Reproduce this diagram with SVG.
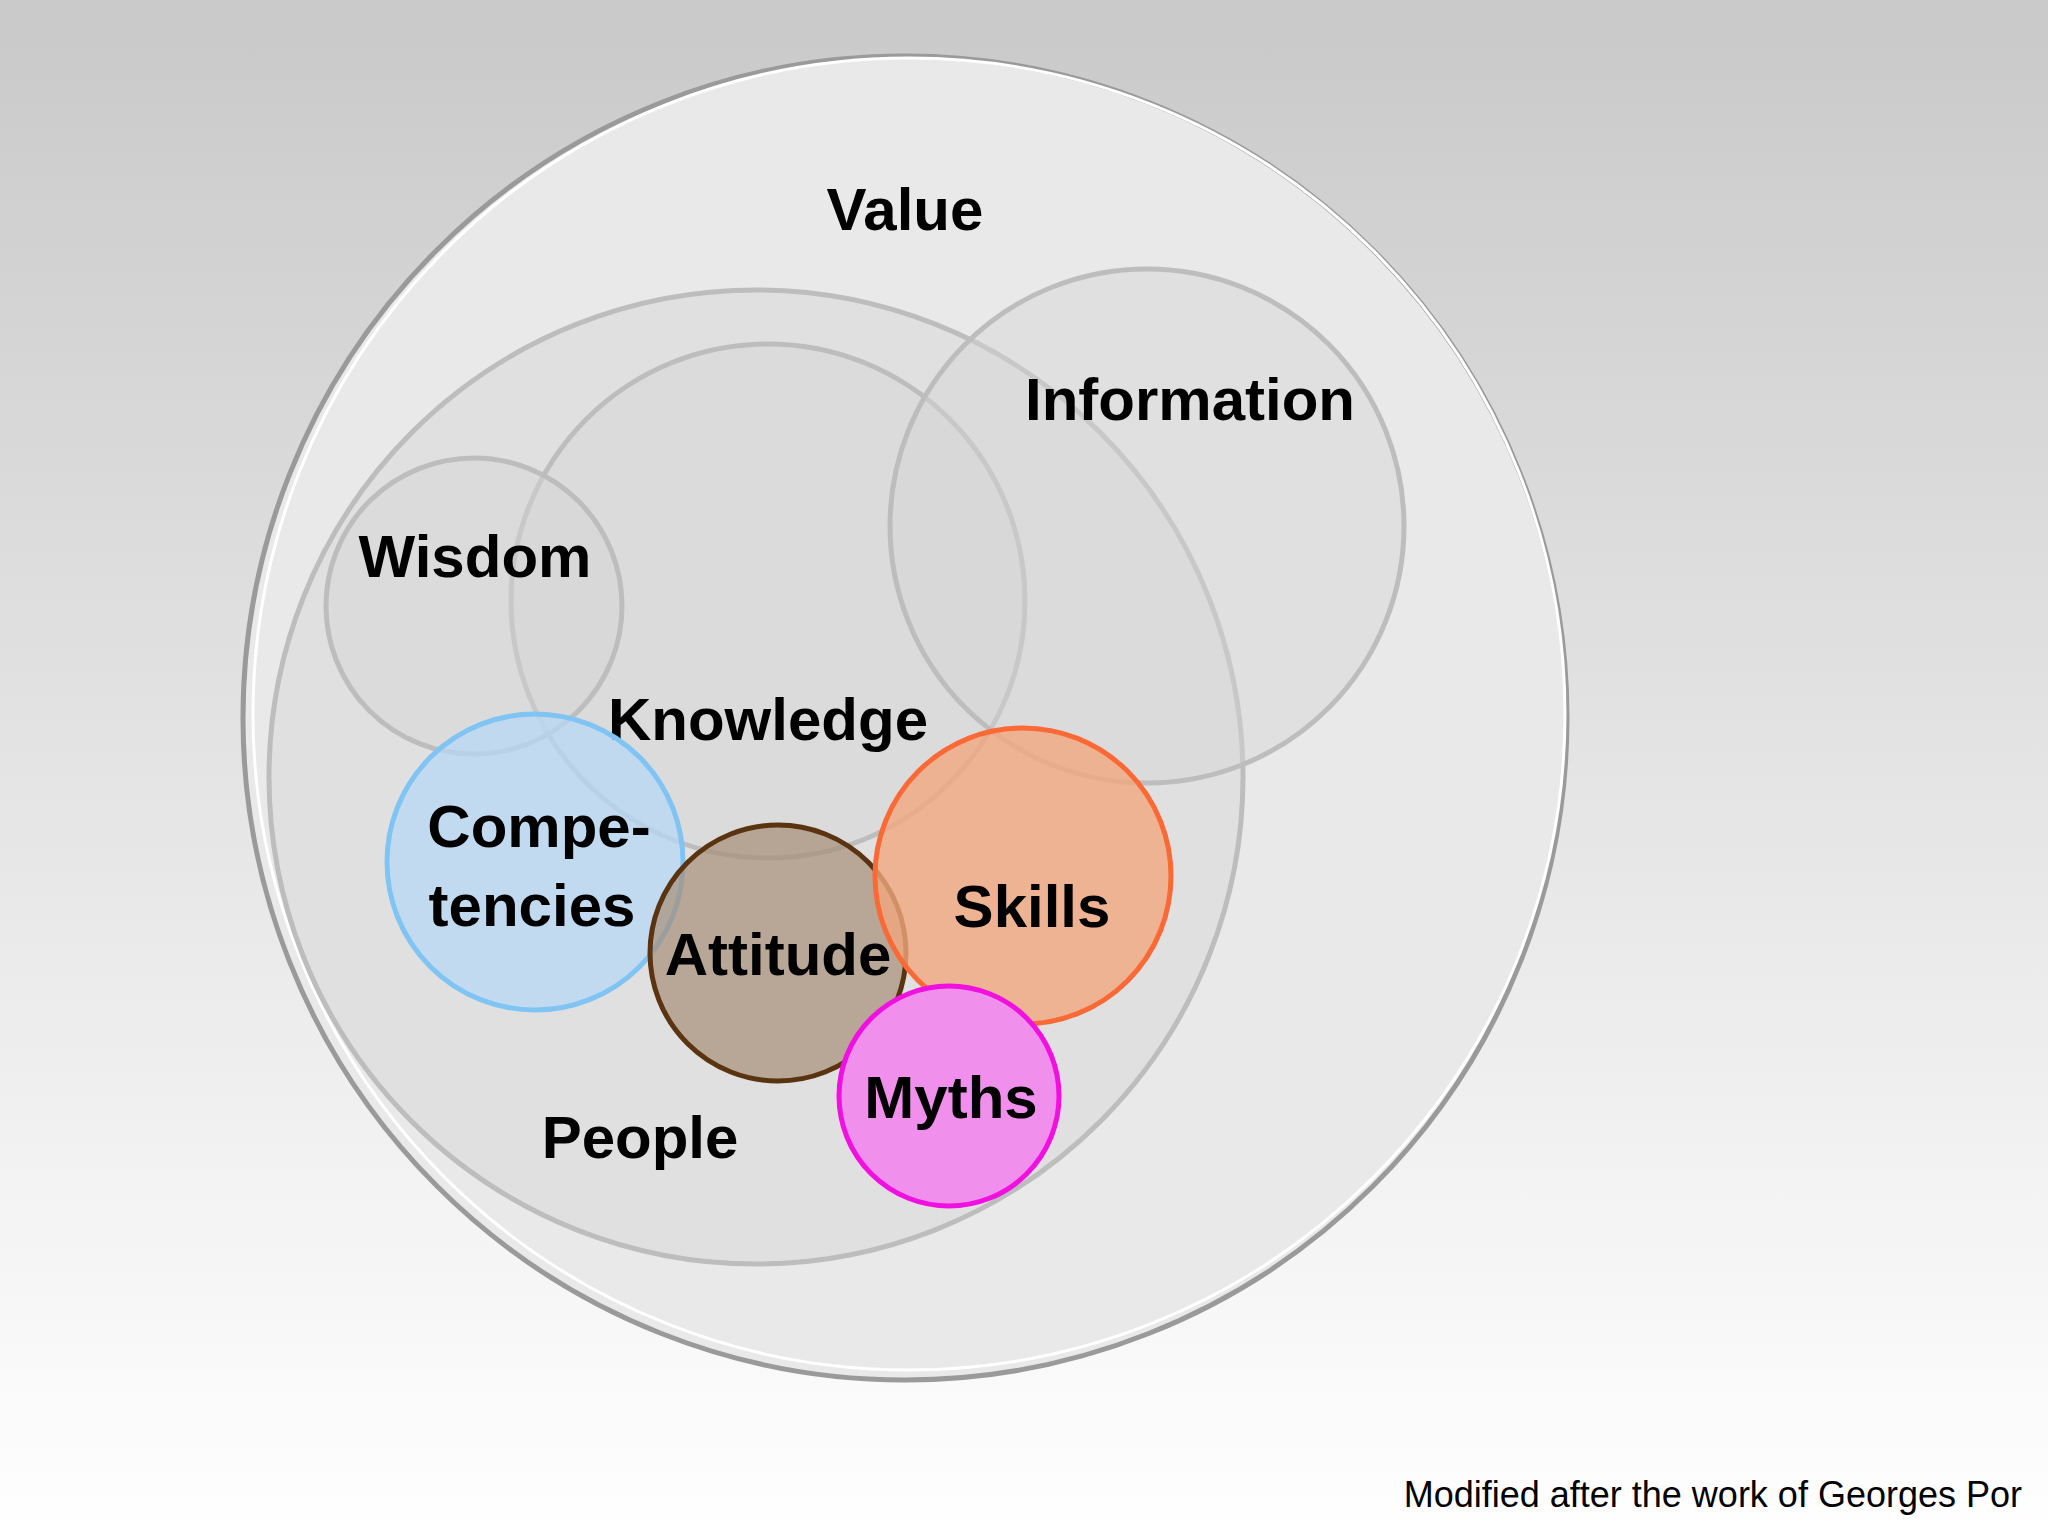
<svg xmlns="http://www.w3.org/2000/svg" width="2048" height="1535" viewBox="0 0 2048 1535">
<defs>
<linearGradient id="bg" x1="0" y1="0" x2="0" y2="1"><stop offset="0" stop-color="#c9c9c9"/><stop offset="1" stop-color="#ffffff"/></linearGradient>
<style>
.t{font-family:"Liberation Sans",Arial,sans-serif;font-weight:bold;font-size:60px;fill:#000;text-anchor:middle}
.g{fill:#d4d4d4;fill-opacity:0.45;stroke:#bdbdbd;stroke-width:5}
</style>
</defs>
<rect width="2048" height="1535" fill="url(#bg)"/>
<g id="value"><circle cx="905" cy="718" r="662" fill="#e9e9e9" stroke="#9a9a9a" stroke-width="5"/><circle cx="909" cy="714" r="656" fill="none" stroke="#ffffff" stroke-width="3"/><text class="t" x="905" y="230">Value</text></g>
<g id="people"><circle cx="756" cy="777" r="487" class="g"/><text class="t" x="640" y="1158">People</text></g>
<g id="knowledge"><circle cx="768" cy="601" r="257" class="g"/><text class="t" x="768" y="740">Knowledge</text></g>
<g id="wisdom"><circle cx="474" cy="606" r="148" class="g"/><text class="t" x="475" y="577">Wisdom</text></g>
<g id="information"><circle cx="1147" cy="526" r="257" class="g"/><text class="t" x="1190" y="420">Information</text></g>
<g id="competencies"><circle cx="535" cy="862" r="148" fill="#b8d8f4" fill-opacity="0.75" stroke="#80c4f4" stroke-width="5"/><text class="t" x="539" y="847">Compe-</text><text class="t" x="532" y="926">tencies</text></g>
<g id="attitude"><circle cx="778" cy="953" r="128" fill="#a78e78" fill-opacity="0.7" stroke="#5a3410" stroke-width="5"/><text class="t" x="778" y="975">Attitude</text></g>
<g id="skills"><circle cx="1023" cy="876" r="148" fill="#f0a87e" fill-opacity="0.8" stroke="#fb6a36" stroke-width="5"/><text class="t" x="1032" y="927">Skills</text></g>
<g id="myths"><circle cx="949" cy="1096" r="110" fill="#f090ec" stroke="#f010e0" stroke-width="5"/><text class="t" x="951" y="1118">Myths</text></g>
<g id="connectors"/>
<text x="2022" y="1507" style="font-family:'Liberation Sans',Arial,sans-serif;font-size:36px;text-anchor:end;fill:#000">Modified after the work of Georges Por</text>
</svg>
